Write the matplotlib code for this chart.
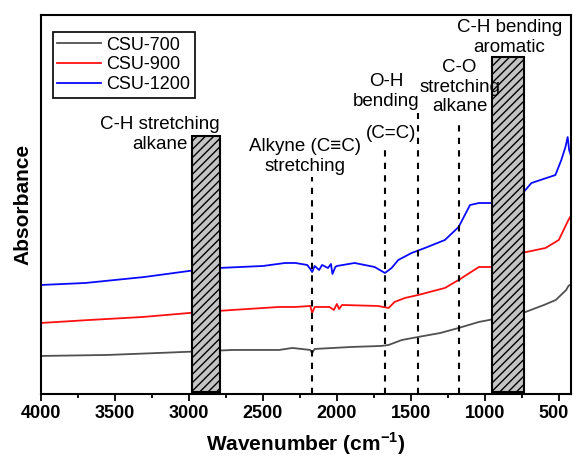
import matplotlib.pyplot as plt
from matplotlib.patches import Rectangle
from matplotlib.transforms import ScaledTranslation

plt.rcParams['font.family'] = ['Liberation Sans', 'DejaVu Sans']
plt.rcParams['mathtext.fontset'] = 'custom'
plt.rcParams['mathtext.rm'] = 'Liberation Sans'
plt.rcParams['mathtext.bf'] = 'Liberation Sans:bold'

# spectra (wavenumber, absorbance a.u.)
wn_700 = [4000, 3550, 3200, 2700, 2390, 2300, 2180, 2167, 2150, 1900, 1700, 1650,
          1560, 1450, 1300, 1177, 1040, 900, 725, 600, 520, 450, 435, 415]
abs_700 = [0.38, 0.39, 0.41, 0.44, 0.44, 0.46, 0.44, 0.41, 0.45, 0.47, 0.48, 0.49,
           0.54, 0.57, 0.61, 0.66, 0.72, 0.76, 0.82, 0.89, 0.94, 1.04, 1.08, 1.10]

wn_900 = [4000, 3670, 3310, 2996, 2706, 2390, 2280, 2180, 2167, 2150, 2050, 2020,
          2000, 1985, 1965, 1723, 1650, 1610, 1540, 1450, 1270, 1177, 1040, 950,
          906, 840, 750, 590, 500, 435, 415]
abs_900 = [0.71, 0.74, 0.77, 0.81, 0.84, 0.87, 0.87, 0.88, 0.81, 0.87, 0.87, 0.84,
           0.90, 0.85, 0.89, 0.88, 0.86, 0.92, 0.96, 0.99, 1.06, 1.14, 1.27, 1.27,
           1.24, 1.31, 1.41, 1.46, 1.54, 1.74, 1.79]

wn_1200 = [4000, 3700, 3500, 3300, 3000, 2800, 2500, 2350, 2280, 2200, 2180, 2167,
           2150, 2120, 2100, 2060, 2040, 2030, 2010, 2000, 1880, 1745, 1675, 1630,
           1585, 1495, 1405, 1270, 1177, 1100, 1040, 950, 920, 840, 772, 685, 523,
           483, 455, 440, 430, 415]
abs_1200 = [1.09, 1.11, 1.14, 1.17, 1.23, 1.26, 1.28, 1.31, 1.31, 1.29, 1.25, 1.22,
            1.28, 1.24, 1.29, 1.26, 1.30, 1.20, 1.27, 1.28, 1.31, 1.27, 1.21, 1.26,
            1.34, 1.41, 1.46, 1.54, 1.67, 1.89, 1.91, 1.91, 1.81, 1.87, 1.96, 2.11,
            2.19, 2.34, 2.47, 2.57, 2.44, 2.37]

# shaded bands (start, end, top)
bands = [(2980, 2790, 2.58), (954, 732, 3.37)]
# dashed marker lines (wavenumber, top)
marks = [(2167, 2.17), (1675, 2.46), (1453, 2.81), (1177, 2.74)]

fig = plt.figure(figsize=(5.74, 4.57), dpi=100)
ax = fig.add_axes([0.0714, 0.138, 0.924, 0.829])

ax.plot(wn_700, abs_700, color='#505050', lw=1.3, label='CSU-700')
ax.plot(wn_900, abs_900, color='#ff1010', lw=1.3, label='CSU-900')
ax.plot(wn_1200, abs_1200, color='#0a0aff', lw=1.3, label='CSU-1200')

for x0, x1, top in bands:
    ax.add_patch(Rectangle((x1, 0.02), x0 - x1, top - 0.02, facecolor='#c4c4c4',
                           edgecolor='black', hatch='////', lw=1.5, zorder=3))

for x, top in marks:
    ax.plot([x, x], [0, top], color='black', ls=(0, (3, 3)), lw=1.5)

fs = 13.5
ax.text(3198, 2.595, 'C-H stretching\nalkane', ha='center', va='center', fontsize=fs, linespacing=1.25)
ax.text(2214, 2.375, 'Alkyne (C\u2261C)\nstretching', ha='center', va='center', fontsize=fs, linespacing=1.25)
ax.text(1668, 3.025, 'O-H\nbending', ha='center', va='center', fontsize=fs, linespacing=1.25)
ax.text(1635, 2.61, '(C=C)', ha='center', va='center', fontsize=fs)
ax.text(1170, 3.07, 'C-O\nstretching\nalkane', ha='center', va='center', fontsize=fs, linespacing=1.2)
ax.text(833, 3.565, 'C-H bending\naromatic', ha='center', va='center', fontsize=fs, linespacing=1.25, zorder=4)

ax.set_xlim(4000, 415)
ax.set_ylim(0, 3.79)
ax.set_xticks([4000, 3500, 3000, 2500, 2000, 1500, 1000, 500])
ax.set_xticks(range(750, 4000, 500), minor=True)
ax.set_yticks([])
ax.tick_params(axis='x', which='major', length=5, width=1.3, labelsize=13, pad=3)
ax.tick_params(axis='x', which='minor', length=3, width=1.3)
for lab in ax.get_xticklabels():
    lab.set_fontweight('bold')
last = ax.get_xticklabels()[-1]
last.set_transform(last.get_transform() + ScaledTranslation(-4 / 72, 0, fig.dpi_scale_trans))
for s in ax.spines.values():
    s.set_linewidth(1.5)

ax.set_xlabel('Wavenumber (cm$^{\\mathbf{-1}}$)', fontsize=15, fontweight='bold', labelpad=6)
ax.set_ylabel('Absorbance', fontsize=15, fontweight='bold', labelpad=6)

leg = ax.legend(loc='upper left', bbox_to_anchor=(0.0226, 0.955), fontsize=13,
                frameon=True, fancybox=False, edgecolor='black', framealpha=1,
                handlelength=2.4, borderaxespad=0, borderpad=0.25, labelspacing=0.15,
                handletextpad=0.3)
leg.get_frame().set_linewidth(1.2)

fig.savefig('out.png', dpi=100)
